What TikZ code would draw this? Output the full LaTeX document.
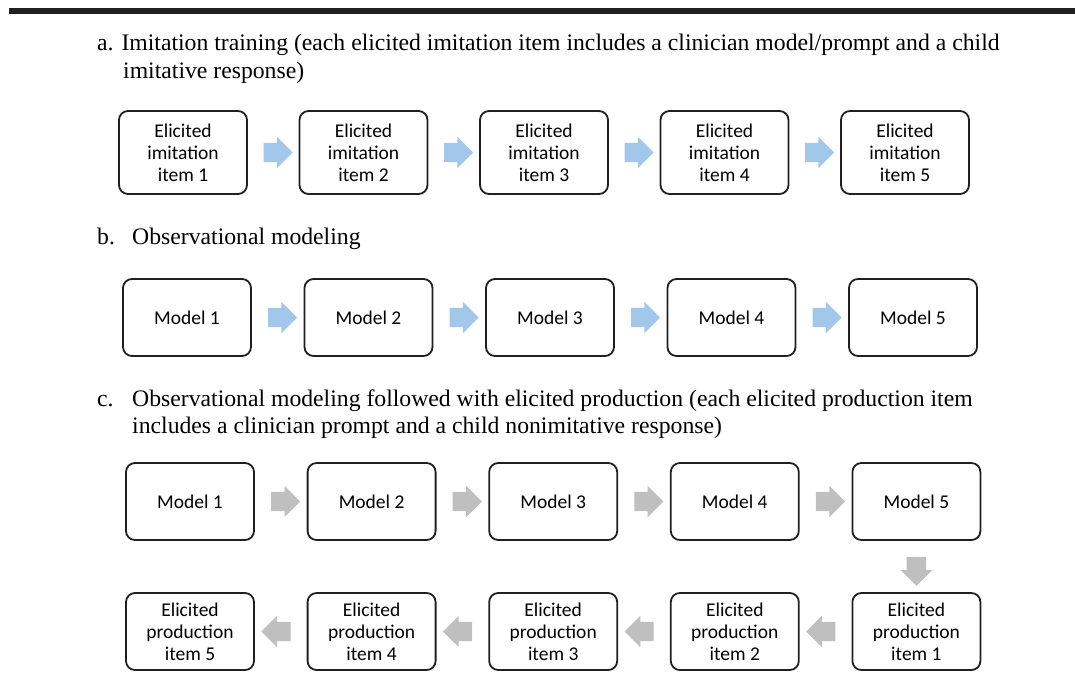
\documentclass[tikz,border=0pt]{standalone}
\usepackage{fontspec}
\setmainfont{Liberation Serif}
\newfontfamily\boxfont{Carlito}
\usetikzlibrary{positioning,calc,shapes.arrows}

\definecolor{arrowblue}{RGB}{163,199,234}
\definecolor{arrowgray}{RGB}{191,191,191}
\definecolor{boxline}{RGB}{35,31,32}

\tikzset{
  heading/.style={anchor=base west,inner sep=0,font=\fontsize{23.7}{28}\selectfont},
  itembox/.style={draw=boxline,line width=1.8pt,rounded corners=9pt,minimum width=128pt,
    align=center,inner sep=0,outer sep=0,font=\boxfont\fontsize{19.5}{22}\selectfont},
  tallbox/.style={itembox,minimum height=83pt},
  flatbox/.style={itembox,minimum height=77pt},
  flow/.style={single arrow,draw=none,inner sep=9.5pt,
    single arrow head extend=6pt,minimum width=31pt,minimum height=28pt},
  blueflow/.style={flow,fill=arrowblue},
  grayflow/.style={flow,fill=arrowgray}
}

\begin{document}
\begin{tikzpicture}[x=1pt,y=-1pt]
\useasboundingbox (0,0) rectangle (1075,679);
\fill[boxline] (9,8) rectangle (1075,14);

% a. imitation training
\node[heading] (ha) at (97,51) {a. Imitation training (each elicited imitation item includes a clinician model/prompt and a child};
\node[heading] (ha2) at (123,79) {imitative response)};

\node[tallbox] (a1) at (183,152.5) {Elicited\\imitation\\item 1};
\node[tallbox,right=52.5pt of a1] (a2) {Elicited\\imitation\\item 2};
\node[tallbox,right=52.5pt of a2] (a3) {Elicited\\imitation\\item 3};
\node[tallbox,right=52.5pt of a3] (a4) {Elicited\\imitation\\item 4};
\node[tallbox,right=52.5pt of a4] (a5) {Elicited\\imitation\\item 5};

\node[blueflow] (fa1) at ($(a1.east)!0.5!(a2.west)$) {};
\node[blueflow] (fa2) at ($(a2.east)!0.5!(a3.west)$) {};
\node[blueflow] (fa3) at ($(a3.east)!0.5!(a4.west)$) {};
\node[blueflow] (fa4) at ($(a4.east)!0.5!(a5.west)$) {};

% b. observational modeling
\node[heading] (hb) at (97,244) {b.};
\node[heading] (hb2) at (132,244) {Observational modeling};

\node[flatbox] (b1) at (187,317.5) {Model 1};
\node[flatbox,right=53.5pt of b1] (b2) {Model 2};
\node[flatbox,right=53.5pt of b2] (b3) {Model 3};
\node[flatbox,right=53.5pt of b3] (b4) {Model 4};
\node[flatbox,right=53.5pt of b4] (b5) {Model 5};

\node[blueflow] (fb1) at ($(b1.east)!0.5!(b2.west)$) {};
\node[blueflow] (fb2) at ($(b2.east)!0.5!(b3.west)$) {};
\node[blueflow] (fb3) at ($(b3.east)!0.5!(b4.west)$) {};
\node[blueflow] (fb4) at ($(b4.east)!0.5!(b5.west)$) {};

% c. modeling followed with elicited production
\node[heading] (hc) at (97,406) {c.};
\node[heading] (hc2) at (132,406) {Observational modeling followed with elicited production (each elicited production item};
\node[heading] (hc3) at (132,433) {includes a clinician prompt and a child nonimitative response)};

\node[flatbox] (c1) at (190,501.5) {Model 1};
\node[flatbox,right=53.6pt of c1] (c2) {Model 2};
\node[flatbox,right=53.6pt of c2] (c3) {Model 3};
\node[flatbox,right=53.6pt of c3] (c4) {Model 4};
\node[flatbox,right=53.6pt of c4] (c5) {Model 5};

\node[flatbox,below=53pt of c5] (p1) {Elicited\\production\\item 1};
\node[flatbox,left=53.6pt of p1] (p2) {Elicited\\production\\item 2};
\node[flatbox,left=53.6pt of p2] (p3) {Elicited\\production\\item 3};
\node[flatbox,left=53.6pt of p3] (p4) {Elicited\\production\\item 4};
\node[flatbox,left=53.6pt of p4] (p5) {Elicited\\production\\item 5};

\node[grayflow] (fc1) at ($(c1.east)!0.5!(c2.west)$) {};
\node[grayflow] (fc2) at ($(c2.east)!0.5!(c3.west)$) {};
\node[grayflow] (fc3) at ($(c3.east)!0.5!(c4.west)$) {};
\node[grayflow] (fc4) at ($(c4.east)!0.5!(c5.west)$) {};
\node[grayflow,shape border rotate=270] (fc5) at ($(c5.south)!0.5!(p1.north)$) {};
\node[grayflow,shape border rotate=180] (fp1) at ($(p1.west)!0.5!(p2.east)$) {};
\node[grayflow,shape border rotate=180] (fp2) at ($(p2.west)!0.5!(p3.east)$) {};
\node[grayflow,shape border rotate=180] (fp3) at ($(p3.west)!0.5!(p4.east)$) {};
\node[grayflow,shape border rotate=180] (fp4) at ($(p4.west)!0.5!(p5.east)$) {};
\end{tikzpicture}
\end{document}
